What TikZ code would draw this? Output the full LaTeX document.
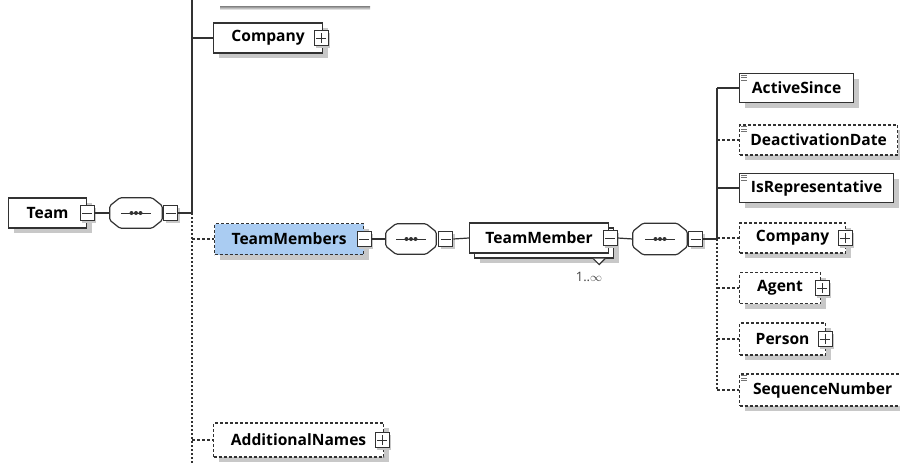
\documentclass[tikz,border=0pt]{standalone}
\usepackage{fontspec}
\setmainfont{Open Sans}
\usetikzlibrary{shadows}

\definecolor{boxline}{RGB}{50,50,50}
\definecolor{shade}{RGB}{200,200,200}
\definecolor{selblue}{RGB}{170,204,242}

\tikzset{
  box/.style={draw=boxline, line width=1.2pt, fill=white, inner sep=0pt,
    minimum height=30pt, anchor=west, font=\fontsize{15.6}{17}\selectfont\bfseries},
  elem/.style={box, drop shadow={shadow xshift=5pt, shadow yshift=-5pt, fill=shade, opacity=1}},
  optelem/.style={elem, dash pattern=on 3pt off 2pt},
  multi/.style={box,
    drop shadow={shadow xshift=10pt, shadow yshift=-10pt, fill=shade, opacity=1},
    copy shadow={shadow xshift=5pt, shadow yshift=-5pt, draw=boxline, fill=white, line width=1.2pt}},
  seq/.style={inner sep=0pt, minimum width=52pt, minimum height=30pt},
  octline/.style={draw=boxline, line width=1.2pt, fill=white, rounded corners=1.5pt},
  octshade/.style={fill=shade, shift={(5pt,-5pt)}},
  xbox/.style={draw=boxline, line width=1.1pt, fill=white, inner sep=0pt,
    minimum width=14pt, minimum height=15pt,
    drop shadow={shadow xshift=2pt, shadow yshift=-2pt, fill=shade, opacity=1}},
  minus/.style={xbox, path picture={
      \draw[line width=1pt] ([xshift=-5pt]path picture bounding box.center) -- ++(10pt,0);}},
  plus/.style={xbox, path picture={
      \draw[line width=1pt] ([xshift=-5pt]path picture bounding box.center) -- ++(10pt,0);
      \draw[line width=1pt] ([yshift=-5pt]path picture bounding box.center) -- ++(0,10pt);}},
  conn/.style={draw=boxline, line width=1.2pt},
  dconn/.style={conn, dash pattern=on 3pt off 2pt},
  vdots/.style={conn, line width=1.4pt, dash pattern=on 2pt off 2pt},
}

% sequence compositor drawn round a named node
\newcommand\seqshape[1]{%
  \foreach \st in {octshade,octline}
    \path[\st]
      ([xshift=10pt]#1.north west) -- ([xshift=-10pt]#1.north east)
      -- ([yshift=-8pt]#1.north east) -- ([yshift=8pt]#1.south east)
      -- ([xshift=-10pt]#1.south east) -- ([xshift=10pt]#1.south west)
      -- ([yshift=8pt]#1.south west) -- ([yshift=-8pt]#1.north west) -- cycle;
  \draw[boxline, line width=0.9pt] ([xshift=-15pt]#1.center) -- ([xshift=15pt]#1.center);
  \foreach \dx in {-4.5,0,4.5}
    \fill[boxline] ([xshift=\dx pt]#1.center) circle (2pt);}

% small attribute icon in the corner of a box
\newcommand\attrmark[1]{%
  \foreach \dy in {2,4.5,7}
    \draw[black!55, line width=0.8pt] ([shift={(2pt,-\dy pt)}]#1.north west) -- ++(6pt,0);}

\begin{document}
\begin{tikzpicture}[x=1pt, y=-1pt]
  \useasboundingbox (0,0) rectangle (900,463);

  % shadow of the box cut off above
  \fill[shade] (220,6) rectangle (370,10);

  % root and its sequence
  \node[elem, minimum width=78pt] (team) at (8,213) {Team\hspace{10pt}};
  \node[minus] (tmx) at (team.east) {};
  \node[seq] (seq1) at (136,213) {};
  \seqshape{seq1}
  \node[minus, anchor=west] (s1x) at ([xshift=1pt]seq1.east) {};
  \coordinate (j1) at (192,213);
  \coordinate (jtop) at (192,0);
  \coordinate (jbot) at (192,463);

  \node[elem, minimum width=109pt] (comp1) at (213,38) {Company};
  \node[plus] (c1x) at ([xshift=-2pt]comp1.east) {};
  \node[optelem, fill=selblue, minimum width=149pt, minimum height=31pt] (members) at (214,239) {TeamMembers};
  \node[minus] (mmx) at (members.east) {};
  \node[optelem, minimum width=170pt, minimum height=34pt] (addnames) at (213,440) {AdditionalNames};
  \node[plus] (anx) at ([xshift=-2pt]addnames.east) {};

  \draw[conn] (tmx.east) -- (seq1.west);
  \draw[conn] (s1x.east) -- (j1);
  \draw[conn] (j1) -- (jtop);
  \draw[vdots] (j1) -- (jbot);
  \draw[conn] (j1 |- comp1.west) -- (comp1.west);
  \draw[dconn] (j1 |- members.west) -- (members.west);
  \draw[dconn] (j1 |- addnames.west) -- (addnames.west);

  % TeamMembers content
  \node[seq, minimum width=50pt] (seq2) at (411,239) {};
  \seqshape{seq2}
  \node[minus, anchor=west] (s2x) at ([xshift=2pt]seq2.east) {};
  \node[multi, minimum width=139pt] (member) at (469,238) {TeamMember};
  \node[minus] (mx) at ([xshift=1pt]member.east) {};
  \filldraw[conn, fill=white] ([shift={(-16pt,-5pt)}]member.south east) -- ++(6pt,-6pt) -- ++(6pt,6pt);
  \node[font=\fontsize{13}{15}\selectfont, text=black!75] (occ) at (589,277) {1..$\infty$};
  \node[seq, minimum width=54pt, minimum height=31pt] (seq3) at (660,239) {};
  \seqshape{seq3}
  \node[minus, anchor=west] (s3x) at ([xshift=1pt]seq3.east) {};
  \coordinate (j2) at (717,239);

  \draw[conn] (mmx.east) -- (seq2.west);
  \draw[conn] (s2x.east) -- (member.west);
  \draw[conn] (mx.east) -- (seq3.west);
  \draw[conn] (s3x.east) -- (j2);

  % TeamMember children
  \node[elem, minimum width=114pt, minimum height=29pt] (active) at (739,88) {ActiveSince};
  \node[optelem, minimum width=158pt] (deact) at (739,140) {DeactivationDate};
  \node[elem, minimum width=154pt, minimum height=29pt] (isrep) at (739,188) {IsRepresentative};
  \node[optelem, minimum width=106pt] (comp2) at (739,238) {Company};
  \node[plus] (c2x) at ([xshift=-1pt]comp2.east) {};
  \node[optelem, minimum width=81pt, minimum height=31pt] (agent) at (739,288) {Agent};
  \node[plus] (agx) at ([xshift=1pt]agent.east) {};
  \node[optelem, minimum width=86pt, minimum height=32pt] (person) at (739,339) {Person};
  \node[plus] (psx) at ([xshift=-1pt]person.east) {};
  \node[optelem, minimum width=166pt, minimum height=32pt] (seqnum) at (739,390) {SequenceNumber};
  \attrmark{active}
  \attrmark{deact}
  \attrmark{isrep}
  \attrmark{seqnum}

  \draw[conn] (j2) -- (j2 |- active.west);
  \draw[vdots] (j2) -- (j2 |- seqnum.west);
  \foreach \n in {active,isrep}
    \draw[conn] (j2 |- \n.west) -- (\n.west);
  \foreach \n in {deact,comp2,agent,person,seqnum}
    \draw[dconn] (j2 |- \n.west) -- (\n.west);
\end{tikzpicture}
\end{document}
